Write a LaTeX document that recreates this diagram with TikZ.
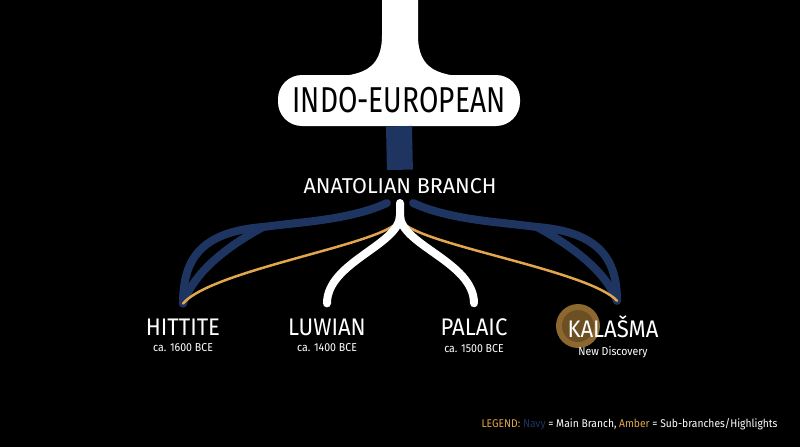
\documentclass[tikz,border=0pt]{standalone}
\usepackage{fontspec}
\setmainfont{Fira Sans}[FakeStretch=0.92]
\newfontfamily\rootfont{Fira Sans}[FakeStretch=0.78]
\newfontfamily\branchfont{Fira Sans}
\usetikzlibrary{positioning}

\definecolor{navy}{HTML}{1E3461}
\definecolor{amber}{HTML}{E2A64C}

\begin{document}
\begin{tikzpicture}[x=1pt, y=-1pt, line cap=round,
    leaf/.style={text=white, inner sep=0pt, font=\fontsize{24}{24}\selectfont},
    date/.style={text=white, inner sep=0pt, font=\fontsize{11.5}{12}\selectfont},
    navyline/.style={draw=navy, line width=8pt},
    amberline/.style={draw=amber, line width=2.5pt},
    whiteline/.style={draw=white, line width=8pt}]
    \fill[black] (0,0) rectangle (800,447);
    \useasboundingbox (0,0) rectangle (800,447);

    % trunk and root box
    \fill[white] (382,-2) -- (382,35) .. controls (382,70) and (362,77) .. (320,77) -- (480,77) .. controls (438,77) and (418,70) .. (418,35) -- (418,-2) -- cycle;
    \path (399,100.5) node[fill=white, rounded corners=24pt, minimum width=242pt, minimum height=51pt, font=\rootfont\fontsize{36}{36}\selectfont] (ie) {INDO-EUROPEAN};
    \path (400,186) node[text=white, font=\branchfont\fontsize{21.5}{22}\selectfont] (anatolian) {ANATOLIAN BRANCH};
    \draw[navy, line width=26pt, line cap=butt, shorten >=5pt] (ie.south) -- (anatolian.north);

    % leaves
    \path (183,327) node[leaf] (hittite) {HITTITE};
    \path (327,327) node[leaf] (luwian) {LUWIAN};
    \path (474,327) node[leaf] (palaic) {PALAIC};
    \fill[amber!62!black] (578,326) circle (22);
    \fill[amber!48!black] (578,326) circle (16);
    \path (613,327) node[leaf] (kalasma) {KALAŠMA};
    \node[date, below=8pt of hittite] (hittite date) {ca. 1600 BCE};
    \node[date, below=8pt of luwian] (luwian date) {ca. 1400 BCE};
    \node[date, below=8pt of palaic] (palaic date) {ca. 1500 BCE};
    \node[date, below=8pt of kalasma] (kalasma date) {New Discovery};

    \coordinate (fork) at (400,203);
    \coordinate[above=15pt of hittite] (hittite end);
    \coordinate[above=15pt of luwian] (luwian end);
    \coordinate[above=15pt of palaic] (palaic end);
    \coordinate[above=15pt of kalasma, xshift=4pt] (kalasma end);

    % navy main branch
    \coordinate (navy l) at (263,227);
    \coordinate (navy r) at (537,227);
    \draw[navyline] (387,203) .. controls (350,220) and (300,222) .. (navy l)
        .. controls (200,232) and (183,260) .. (hittite end);
    \draw[navyline] (navy l) .. controls (230,245) and (195,270) .. (hittite end);
    \draw[navyline] (413,203) .. controls (450,220) and (500,222) .. (navy r)
        .. controls (600,232) and (617,260) .. (kalasma end);
    \draw[navyline] (navy r) .. controls (570,245) and (605,270) .. (kalasma end);

    % amber sub-branches
    \draw[amberline] (393,226) .. controls (360,248) and (210,272) .. (hittite end);
    \draw[amberline] (407,226) .. controls (440,248) and (590,272) .. (kalasma end);

    % white sub-branches
    \draw[whiteline] (fork) -- (400,215) .. controls (400,245) and (327,262) .. (luwian end);
    \draw[whiteline] (400,215) .. controls (400,245) and (474,262) .. (palaic end);

    % legend
    \path (781,424) node[anchor=east, text=white, font=\fontsize{11.2}{12}\selectfont] (legend)
        {\textcolor{amber}{LEGEND:} \textcolor{navy}{Navy} = Main Branch, \textcolor{amber}{Amber} = Sub-branches/Highlights};
\end{tikzpicture}
\end{document}
